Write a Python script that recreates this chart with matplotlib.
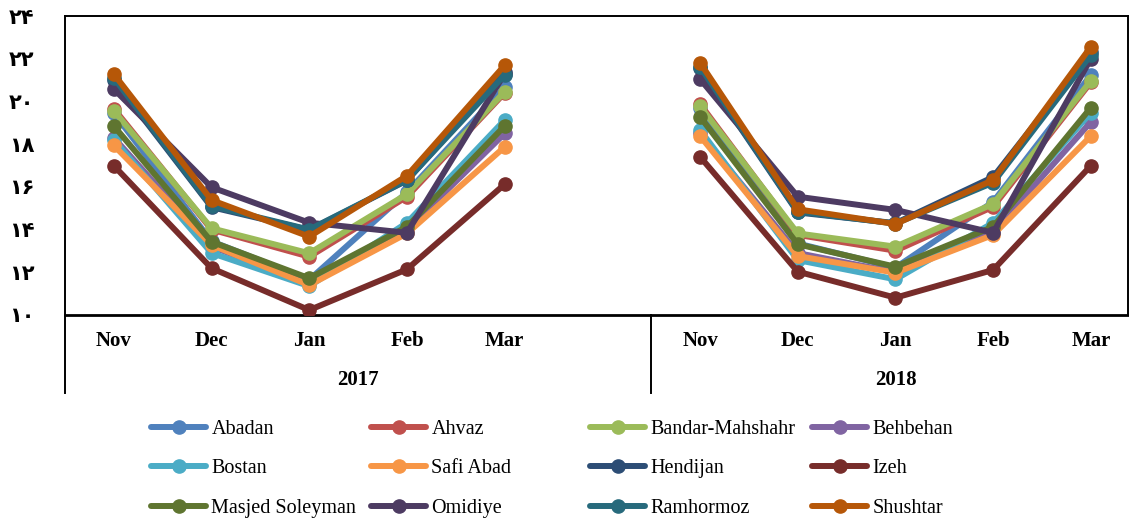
# Temperatura media mensual (Nov-Mar) en estaciones de Juzestán, 2017 y 2018
import matplotlib
matplotlib.use("Agg")
import matplotlib.pyplot as plt

plt.rcParams['font.family'] = ['Liberation Serif', 'DejaVu Sans']

# Datos
meses = ["Nov", "Dec", "Jan", "Feb", "Mar"]
anios = ["2017", "2018"]
estaciones = ["Abadan", "Ahvaz", "Bandar-Mahshahr", "Behbehan",
              "Bostan", "Safi Abad", "Hendijan", "Izeh",
              "Masjed Soleyman", "Omidiye", "Ramhormoz", "Shushtar"]
colores = ["#4F81BD", "#C0504D", "#9BBB59", "#8064A2",
           "#4BACC6", "#F79646", "#2C4D75", "#772C2A",
           "#5F7530", "#4D3B62", "#276A7C", "#B65708"]

abadan_2017 = [19.45, 13.45, 11.65, 15.75, 20.66]
abadan_2018 = [19.70, 13.35, 12.22, 15.30, 21.24]
ahvaz_2017 = [19.66, 14.00, 12.73, 15.54, 20.40]
ahvaz_2018 = [19.88, 13.75, 13.01, 15.07, 20.90]
bandar_2017 = [19.56, 14.06, 12.89, 15.66, 20.45]
bandar_2018 = [19.78, 13.82, 13.20, 15.20, 20.97]
behbehan_2017 = [18.30, 13.20, 11.50, 14.00, 18.50]
behbehan_2018 = [18.50, 12.90, 12.00, 13.90, 19.04]
bostan_2017 = [18.20, 12.90, 11.35, 14.32, 19.13]
bostan_2018 = [18.66, 12.57, 11.67, 14.32, 19.47]
safi_2017 = [17.94, 13.28, 11.40, 13.82, 17.87]
safi_2018 = [18.38, 12.76, 11.98, 13.75, 18.38]
hendijan_2017 = [21.00, 15.05, 13.98, 16.30, 21.40]
hendijan_2018 = [21.55, 14.80, 14.30, 16.46, 22.30]
izeh_2017 = [16.99, 12.19, 10.23, 12.14, 16.12]
izeh_2018 = [17.41, 12.03, 10.81, 12.11, 16.99]
masjed_2017 = [18.85, 13.43, 11.72, 14.13, 18.85]
masjed_2018 = [19.28, 13.31, 12.26, 14.13, 19.71]
omidiye_2017 = [20.58, 15.98, 14.32, 13.85, 21.30]
omidiye_2018 = [21.05, 15.54, 14.92, 13.85, 22.00]
ramhormoz_2017 = [21.10, 15.10, 14.00, 16.32, 21.24]
ramhormoz_2018 = [21.62, 14.84, 14.28, 16.20, 22.17]
shushtar_2017 = [21.28, 15.38, 13.67, 16.52, 21.69]
shushtar_2018 = [21.81, 14.95, 14.26, 16.32, 22.56]

valores = [
    (abadan_2017, abadan_2018), (ahvaz_2017, ahvaz_2018),
    (bandar_2017, bandar_2018), (behbehan_2017, behbehan_2018),
    (bostan_2017, bostan_2018), (safi_2017, safi_2018),
    (hendijan_2017, hendijan_2018), (izeh_2017, izeh_2018),
    (masjed_2017, masjed_2018), (omidiye_2017, omidiye_2018),
    (ramhormoz_2017, ramhormoz_2018), (shushtar_2017, shushtar_2018),
]

yticks = [10, 12, 14, 16, 18, 20, 22, 24]

# Posiciones de categoría: grupo 2017 tiene 6 casillas (una vacía), 2018 empieza en 6
x_2017 = list(range(len(meses)))
x_2018 = [i + 6 for i in range(len(meses))]

digitos_fa = str.maketrans("0123456789", "۰۱۲۳۴۵۶۷۸۹")

fig = plt.figure(figsize=(11.29, 5.18), dpi=100)
ax = fig.add_axes([65 / 1129, 203 / 518, 1063 / 1129, 299 / 518])

lineas = []
for nombre, color, (v17, v18) in zip(estaciones, colores, valores):
    l, = ax.plot(x_2017, v17, color=color, lw=4.3, marker='o', ms=9.5,
                 solid_capstyle='round', label=nombre, zorder=3)
    ax.plot(x_2018, v18, color=color, lw=4.3, marker='o', ms=9.5,
            solid_capstyle='round', zorder=3)
    lineas.append(l)

ax.set_xlim(-0.5, 10.38)
ax.set_ylim(10, 24)
ax.set_yticks(yticks)
ax.set_yticklabels([str(t).translate(digitos_fa) for t in yticks],
                   fontsize=15, fontweight='bold')
ax.tick_params(axis='y', length=0, pad=22)
ax.set_xticks([])
for s in ax.spines.values():
    s.set_linewidth(1.4)
    s.set_color('black')
ax.spines['bottom'].set_linewidth(2)

# Eje de categorías de dos niveles
tr = ax.get_xaxis_transform()
for xi, m in zip(x_2017 + x_2018, meses + meses):
    ax.text(xi, -0.087, m, transform=tr, ha='center', va='center',
            fontsize=15, fontweight='bold')
for xc, a in zip([2.5, 8.0], anios):
    ax.text(xc, -0.217, a, transform=tr, ha='center', va='center',
            fontsize=15, fontweight='bold')
for xs in [-0.5, 5.5]:
    ax.plot([xs, xs], [0, -0.262], transform=tr, color='black', lw=1.4,
            clip_on=False)

# Leyenda: cuatro columnas de ancho igual
x_cols = [151, 371, 590, 812]
for c, xc in enumerate(x_cols):
    hs = lineas[c::4]
    fig.legend(hs, [h.get_label() for h in hs], loc='upper left',
               bbox_to_anchor=(xc / 1129, 0.19), frameon=False,
               fontsize=14.5, handlelength=2.75, handletextpad=0.25,
               labelspacing=1.02, borderpad=0, borderaxespad=0)

fig.savefig("out.png", dpi=100)
